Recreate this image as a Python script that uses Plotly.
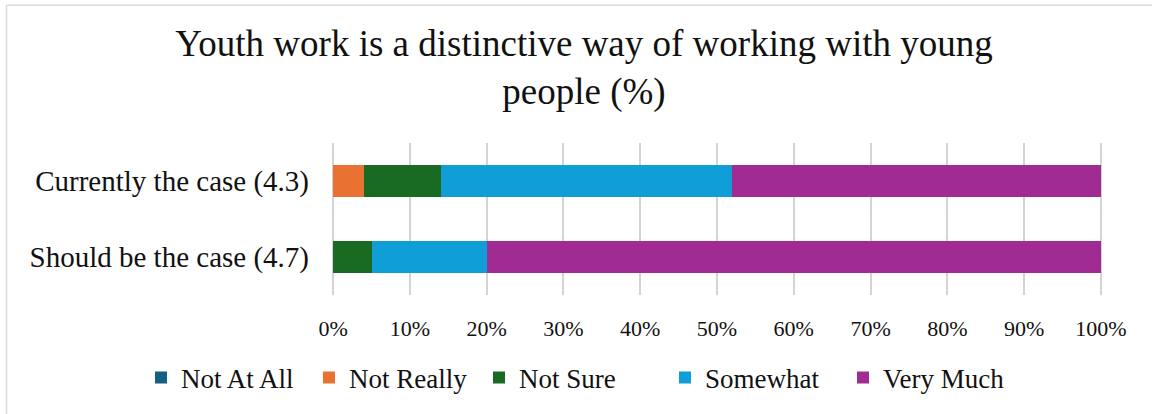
import plotly.graph_objects as go

# Survey responses (% of respondents) per statement
categories = ["Currently the case (4.3)", "Should be the case (4.7)"]
responses = ["Not At All", "Not Really", "Not Sure", "Somewhat", "Very Much"]
not_at_all = [0, 0]
not_really = [4, 0]
not_sure = [10, 5]
somewhat = [38, 15]
very_much = [48, 80]
tick_values = [0, 10, 20, 30, 40, 50, 60, 70, 80, 90, 100]
tick_labels = [f"{v}%" for v in tick_values]

series = [not_at_all, not_really, not_sure, somewhat, very_much]
colors = ["#156082", "#E97132", "#196B24", "#0F9ED5", "#A02B93"]

W, H = 1152, 414
ML, MR, MT, MB = 332, 50, 143, 117
FONT = "Liberation Serif, Times New Roman, serif"
TEXT = "#111111"

pw, ph = W - ML - MR, H - MT - MB
def px_x(p):
    return (p - ML) / pw
def px_y(p):
    return (H - MB - p) / ph

# left edge (px) of each legend entry's swatch
legend_left = [159, 327, 497, 683, 861]
legend_ids = ["legend", "legend2", "legend3", "legend4", "legend5"]

fig = go.Figure()
for name, vals, col, lid in zip(responses, series, colors, legend_ids):
    fig.add_trace(go.Bar(
        y=categories, x=vals, name=name, orientation="h",
        marker=dict(color=col, line=dict(width=0)),
        legend=lid,
    ))

legend_layout = {}
for lid, left in zip(legend_ids, legend_left):
    legend_layout[lid] = dict(
        orientation="h", xref="paper", x=px_x(left - 18), xanchor="left",
        yref="paper", y=px_y(381), yanchor="middle",
        font=dict(family=FONT, size=27, color=TEXT),
        bgcolor="rgba(0,0,0,0)", borderwidth=0,
    )

# outer chart frame (left and top edges)
frame = dict(type="line", xref="paper", yref="paper",
             line=dict(color="#d9d9d9", width=1.5))
fig.add_shape(**frame, x0=px_x(6.5), x1=px_x(6.5), y0=px_y(3.5), y1=px_y(420))
fig.add_shape(**frame, x0=px_x(6.5), x1=px_x(1160), y0=px_y(3.5), y1=px_y(3.5))

fig.update_layout(
    width=W, height=H,
    margin=dict(l=ML, r=MR, t=MT, b=MB),
    barmode="stack", bargap=0.584,
    plot_bgcolor="white", paper_bgcolor="white",
    font=dict(family=FONT, color=TEXT),
    title=dict(
        text="Youth work is a distinctive way of working with young<br>people (%)",
        x=584 / W, xanchor="center", xref="container",
        y=1 - 56 / H, yanchor="top", yref="container",
        font=dict(family=FONT, size=37, color=TEXT),
    ),
    xaxis=dict(
        range=[-0.15, 100.15], tickvals=tick_values, ticktext=tick_labels,
        showgrid=True, gridcolor="#d4d4d4", gridwidth=1.5,
        zeroline=False, showline=False, ticks="",
        tickfont=dict(family=FONT, size=22, color=TEXT),
        ticklabelstandoff=18, fixedrange=True,
    ),
    yaxis=dict(
        categoryorder="array", categoryarray=categories[::-1],
        showgrid=False, zeroline=False, showline=False, ticks="",
        tickfont=dict(family=FONT, size=29, color=TEXT),
        ticklabelstandoff=22, fixedrange=True,
    ),
    showlegend=True,
    **legend_layout,
)

fig.write_html("out.html")
